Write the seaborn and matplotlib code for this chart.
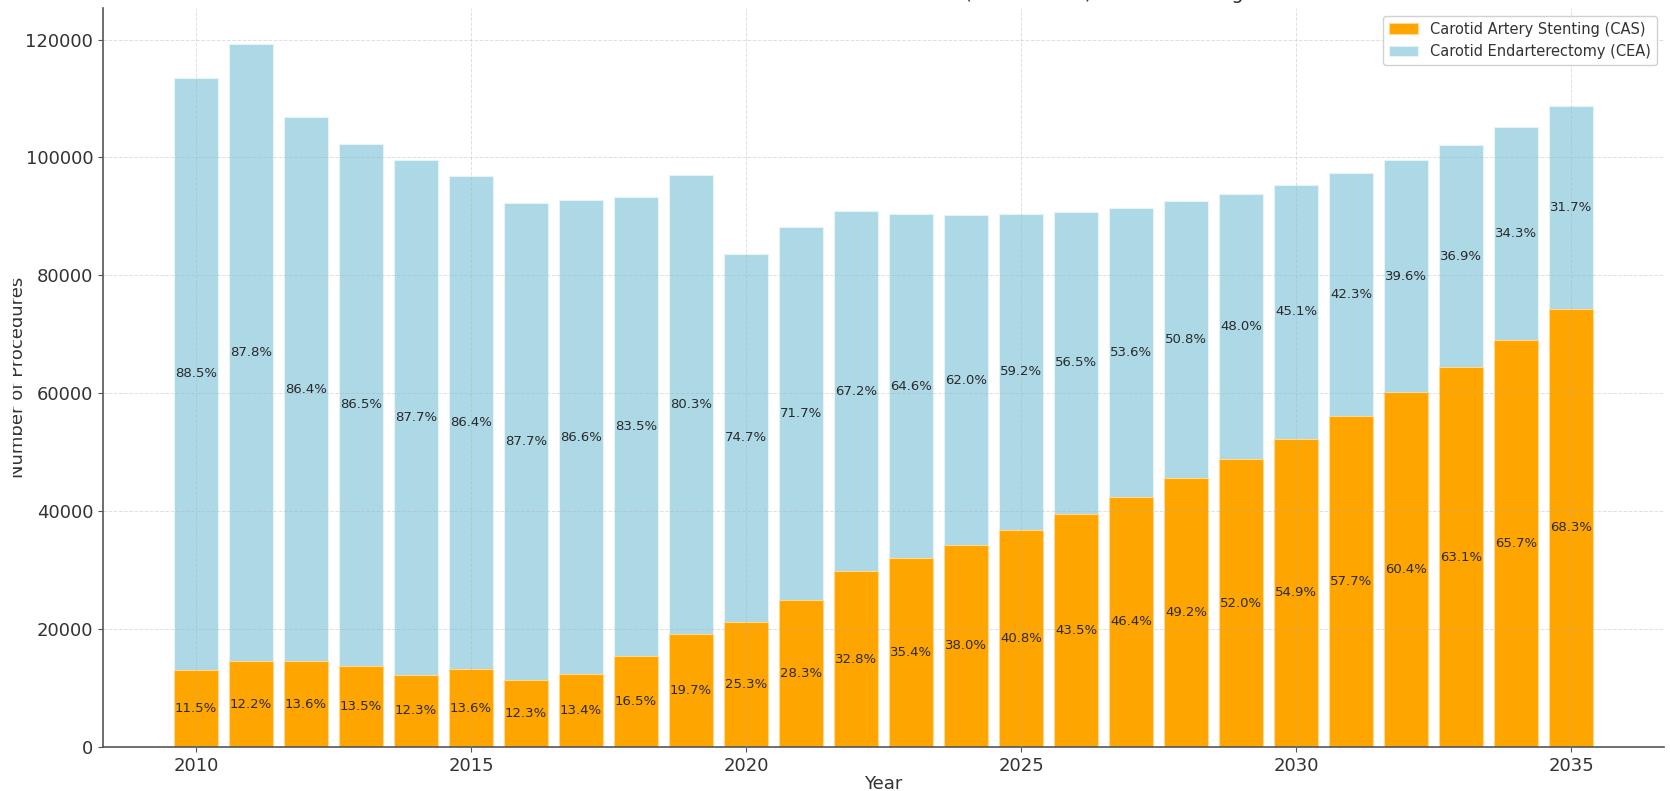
import numpy as np
import pandas as pd
import seaborn as sns
import matplotlib
matplotlib.use("Agg")
import matplotlib.pyplot as plt
from matplotlib.transforms import Bbox, TransformedBbox

# procedure counts
years = list(range(2010, 2036))
cas = [13050, 14555, 14525, 13810, 12251, 13178, 11341, 12422, 15395, 19129,
       21176, 24961, 29815, 32002, 34276, 36883, 39498, 42456, 45559, 48776,
       52320, 56142, 60158, 64425, 69116, 74310]
cea = [100450, 104745, 92275, 88490, 87349, 83722, 80859, 80278, 77905, 77971,
       62524, 63239, 61085, 58398, 55924, 53517, 51302, 49044, 47041, 45024,
       42980, 41158, 39442, 37675, 36084, 34490]

df = pd.DataFrame({"Year": years, "CAS": cas, "CEA": cea})
df["Total"] = df["CAS"] + df["CEA"]
df["CAS_pct"] = df["CAS"] / df["Total"] * 100
df["CEA_pct"] = df["CEA"] / df["Total"] * 100

plt.rcParams.update({
    "axes.edgecolor": "#555555",
    "axes.linewidth": 1.2,
    "xtick.color": "#555555",
    "ytick.color": "#555555",
    "xtick.labelcolor": "#333333",
    "ytick.labelcolor": "#333333",
    "axes.labelcolor": "#333333",
    "text.color": "#333333",
})

fig, ax = plt.subplots(figsize=(16.7, 7.91), dpi=100)
fig.subplots_adjust(left=0.0617, right=0.9964, top=0.9893, bottom=0.0556)

# stacked bars: total (CEA on top) first, CAS drawn over it
sns.barplot(data=df, x="Year", y="Total", color="#ADD8E6", saturation=1,
            native_scale=True, errorbar=None, edgecolor="#e6f4f8", linewidth=0.8,
            label="Carotid Endarterectomy (CEA)", ax=ax)
sns.barplot(data=df, x="Year", y="CAS", color="#FFA500", saturation=1,
            native_scale=True, errorbar=None, edgecolor="#ffd98f", linewidth=0.8,
            label="Carotid Artery Stenting (CAS)", ax=ax)

for _, row in df.iterrows():
    ax.text(row["Year"], row["CAS"] / 2, f"{row['CAS_pct']:.1f}%",
            ha="center", va="center", fontsize=9.5, color="#2a2a2a")
    ax.text(row["Year"], row["CAS"] + row["CEA"] / 2, f"{row['CEA_pct']:.1f}%",
            ha="center", va="center", fontsize=9.5, color="#2a2a2a")

ax.set_xticks([2010, 2015, 2020, 2025, 2030, 2035])
ax.margins(x=0.05, y=0.05)
ax.set_ylim(0, None)
ax.tick_params(labelsize=13)
ax.grid(True, linestyle="--", color="#b0b0b0", linewidth=0.7, alpha=0.4)
ax.set_axisbelow(False)
ax.spines["top"].set_visible(False)
ax.spines["right"].set_visible(False)

ax.set_xlabel("Year", fontsize=13, labelpad=0)
ax.set_ylabel("Number of Procedures", fontsize=13)
ax.yaxis.set_label_coords(-0.049, 0.5)
ax.set_title("Trends in Carotid Revascularization Procedures (CAS vs CEA) with Percentages",
             fontsize=14, pad=6.5)

handles, labels = ax.get_legend_handles_labels()
ax.legend(handles[::-1], labels[::-1], loc="upper right", fontsize=10.5,
          framealpha=0.9, edgecolor="#cccccc")

# the source image is cropped at the left, cutting the top of the y label
ylab = ax.yaxis.label
ylab.set_clip_box(TransformedBbox(Bbox([[13 / 1670, 0], [1, 1]]), fig.transFigure))
ylab.set_clip_on(True)

fig.savefig("out.png", dpi=100)
